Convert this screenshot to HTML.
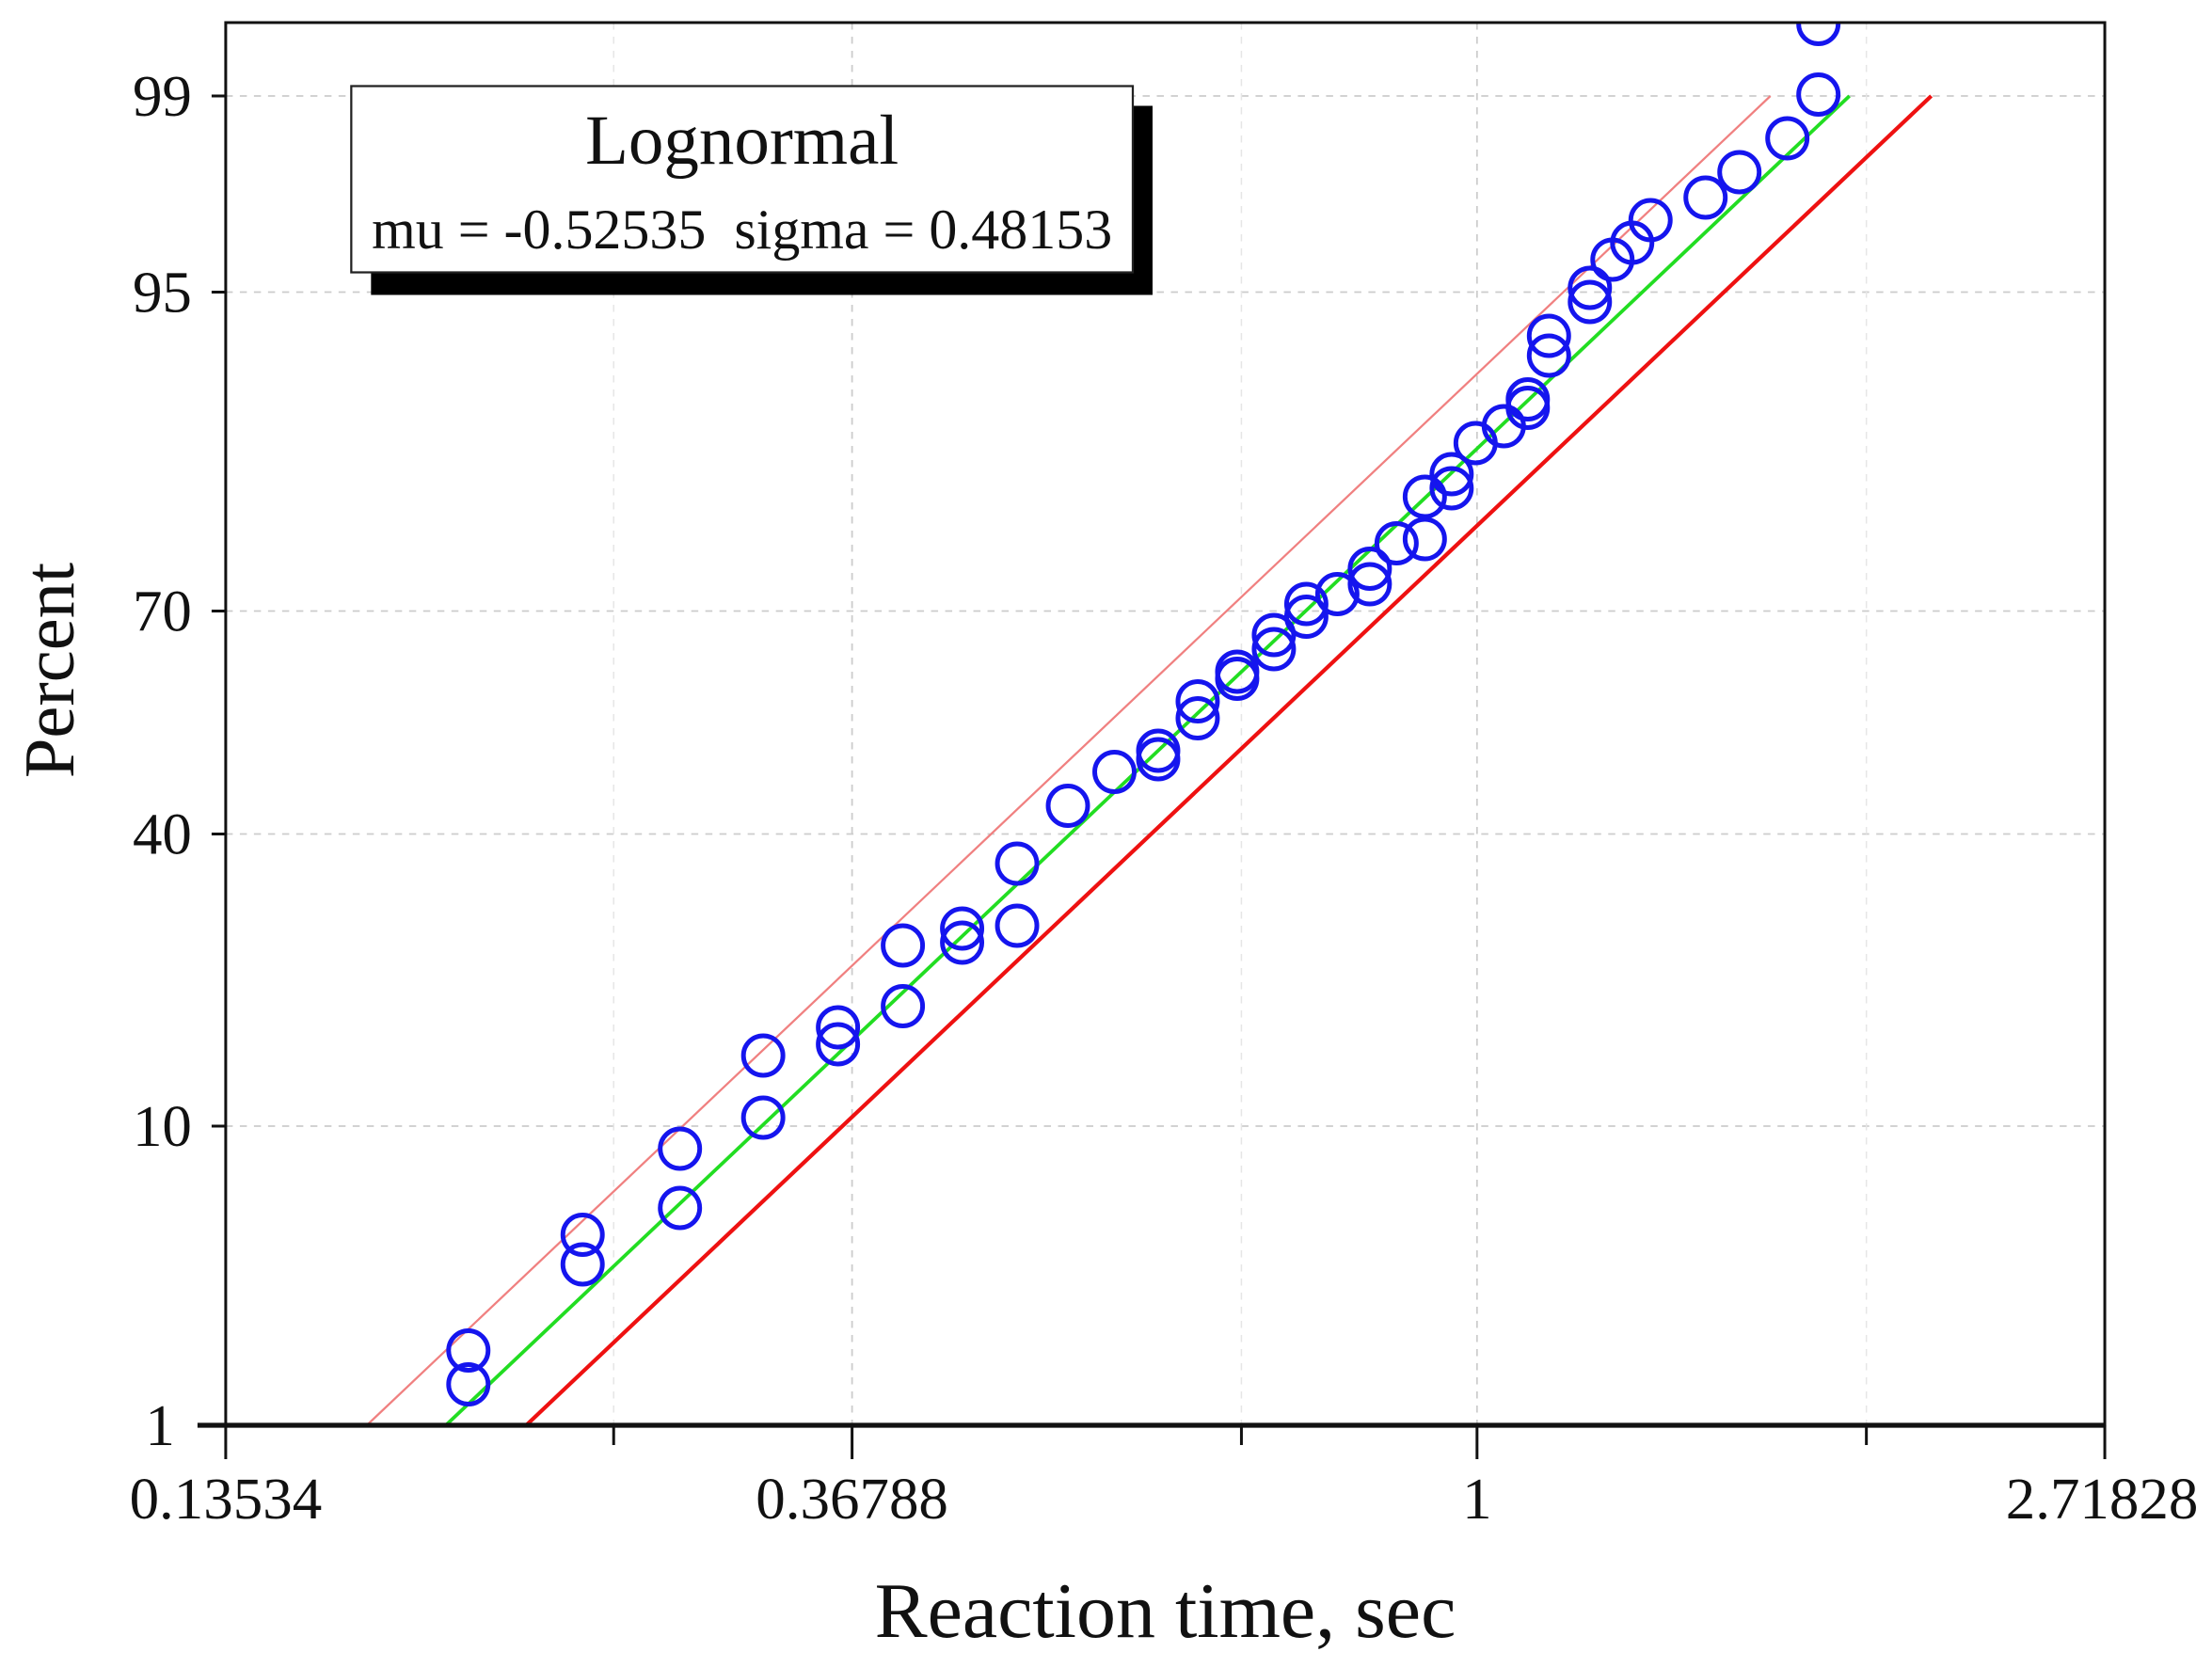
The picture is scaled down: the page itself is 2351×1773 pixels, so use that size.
<!DOCTYPE html>
<html><head><meta charset="utf-8"><style>
html,body{margin:0;padding:0;background:#fff;}
svg{display:block;}
text{font-family:"Liberation Serif",serif;fill:#111;}
</style></head><body>
<svg width="2351" height="1773" viewBox="0 0 1568 1182" preserveAspectRatio="none" xmlns="http://www.w3.org/2000/svg">
<rect width="1568" height="1182" fill="#fff"/>
<g stroke="#ccc" stroke-width="1.2" stroke-dasharray="5,5">
<line x1="160" y1="68" x2="1492" y2="68"/>
<line x1="160" y1="207" x2="1492" y2="207"/>
<line x1="160" y1="433" x2="1492" y2="433"/>
<line x1="160" y1="591" x2="1492" y2="591"/>
<line x1="160" y1="798" x2="1492" y2="798"/>
<line x1="604" y1="16" x2="604" y2="1010"/>
<line x1="1047" y1="16" x2="1047" y2="1010"/>
</g>
<g stroke="#e6e6e6" stroke-width="1" stroke-dasharray="5,5">
<line x1="435" y1="16" x2="435" y2="1010"/>
<line x1="880" y1="16" x2="880" y2="1010"/>
<line x1="1323" y1="16" x2="1323" y2="1010"/>
</g>
<line x1="260" y1="1010" x2="1255" y2="68" stroke="#f08080" stroke-width="1.5"/>
<line x1="316" y1="1010" x2="1311" y2="68" stroke="#22dd22" stroke-width="2.5"/>
<line x1="373" y1="1010" x2="1369" y2="68" stroke="#ee1111" stroke-width="2.8"/>
<g fill="none" stroke="#1515ee" stroke-width="3.3">
<ellipse cx="332" cy="981" rx="14" ry="14"/><ellipse cx="332" cy="957" rx="14" ry="14"/>
<ellipse cx="413" cy="896" rx="14" ry="14"/><ellipse cx="413" cy="875" rx="14" ry="14"/>
<ellipse cx="482" cy="856" rx="14" ry="14"/><ellipse cx="482" cy="814" rx="14" ry="14"/>
<ellipse cx="541" cy="792" rx="14" ry="14"/><ellipse cx="541" cy="748" rx="14" ry="14"/>
<ellipse cx="594" cy="740" rx="14" ry="14"/><ellipse cx="594" cy="728" rx="14" ry="14"/>
<ellipse cx="640" cy="713" rx="14" ry="14"/><ellipse cx="640" cy="670" rx="14" ry="14"/>
<ellipse cx="682" cy="668" rx="14" ry="14"/><ellipse cx="682" cy="658" rx="14" ry="14"/>
<ellipse cx="721" cy="656" rx="14" ry="14"/><ellipse cx="721" cy="612" rx="14" ry="14"/>
<ellipse cx="757" cy="571" rx="14" ry="14"/><ellipse cx="790" cy="547" rx="14" ry="14"/>
<ellipse cx="821" cy="538" rx="14" ry="14"/><ellipse cx="821" cy="532" rx="14" ry="14"/>
<ellipse cx="849" cy="509" rx="14" ry="14"/><ellipse cx="849" cy="497" rx="14" ry="14"/>
<ellipse cx="877" cy="481" rx="14" ry="14"/><ellipse cx="877" cy="476" rx="14" ry="14"/>
<ellipse cx="903" cy="460" rx="14" ry="14"/><ellipse cx="903" cy="450" rx="14" ry="14"/>
<ellipse cx="926" cy="437" rx="14" ry="14"/><ellipse cx="926" cy="428" rx="14" ry="14"/>
<ellipse cx="948" cy="421" rx="14" ry="14"/><ellipse cx="971" cy="414" rx="14" ry="14"/>
<ellipse cx="971" cy="403" rx="14" ry="14"/><ellipse cx="990" cy="385" rx="14" ry="14"/>
<ellipse cx="1010" cy="382" rx="14" ry="14"/><ellipse cx="1010" cy="352" rx="14" ry="14"/>
<ellipse cx="1029" cy="346" rx="14" ry="14"/><ellipse cx="1029" cy="336" rx="14" ry="14"/>
<ellipse cx="1046" cy="314" rx="14" ry="14"/><ellipse cx="1066" cy="302" rx="14" ry="14"/>
<ellipse cx="1083" cy="289" rx="14" ry="14"/><ellipse cx="1083" cy="283" rx="14" ry="14"/>
<ellipse cx="1098" cy="252" rx="14" ry="14"/><ellipse cx="1098" cy="238" rx="14" ry="14"/>
<ellipse cx="1127" cy="214" rx="14" ry="14"/><ellipse cx="1127" cy="204" rx="14" ry="14"/>
<ellipse cx="1143" cy="184" rx="14" ry="14"/><ellipse cx="1157" cy="172" rx="14" ry="14"/>
<ellipse cx="1170" cy="156" rx="14" ry="14"/><ellipse cx="1209" cy="140" rx="14" ry="14"/>
<ellipse cx="1233" cy="122" rx="14" ry="14"/><ellipse cx="1267" cy="98" rx="14" ry="14"/>
<ellipse cx="1289" cy="67" rx="14" ry="14"/><ellipse cx="1289" cy="17" rx="14" ry="14"/>
</g>
<rect x="0" y="0" width="1568" height="15" fill="#fff"/>
<rect x="160" y="16" width="1332" height="994" fill="none" stroke="#111" stroke-width="2"/>
<line x1="140" y1="1010" x2="1492" y2="1010" stroke="#111" stroke-width="3.5"/>
<g stroke="#111" stroke-width="2">
<line x1="150" y1="68" x2="160" y2="68"/><line x1="150" y1="207" x2="160" y2="207"/>
<line x1="150" y1="433" x2="160" y2="433"/><line x1="150" y1="591" x2="160" y2="591"/>
<line x1="150" y1="798" x2="160" y2="798"/>
<line x1="160" y1="1010" x2="160" y2="1034"/><line x1="604" y1="1010" x2="604" y2="1034"/>
<line x1="1047" y1="1010" x2="1047" y2="1034"/><line x1="1492" y1="1010" x2="1492" y2="1034"/>
<line x1="435" y1="1010" x2="435" y2="1024"/><line x1="880" y1="1010" x2="880" y2="1024"/>
<line x1="1323" y1="1010" x2="1323" y2="1024"/>
</g>
<g font-size="42" text-anchor="end">
<text x="136" y="82">99</text><text x="136" y="221">95</text>
<text x="136" y="447">70</text><text x="136" y="605">40</text>
<text x="136" y="812">10</text><text x="124" y="1024">1</text>
</g>
<g font-size="42" text-anchor="middle">
<text x="160" y="1076">0.13534</text><text x="604" y="1076">0.36788</text>
<text x="1047" y="1076">1</text><text x="1490" y="1076">2.71828</text>
</g>
<text x="826" y="1160" font-size="56" text-anchor="middle">Reaction time, sec</text>
<text transform="translate(52,475) rotate(-90)" font-size="51" text-anchor="middle">Percent</text>
<rect x="263" y="75" width="554" height="134" fill="#000"/>
<rect x="249" y="61" width="554" height="132" fill="#fff" stroke="#222" stroke-width="1.5"/>
<text x="526" y="116" font-size="50" text-anchor="middle">Lognormal</text>
<text x="526" y="176" font-size="40" text-anchor="middle" xml:space="preserve">mu = -0.52535  sigma = 0.48153</text>
</svg>
</body></html>
